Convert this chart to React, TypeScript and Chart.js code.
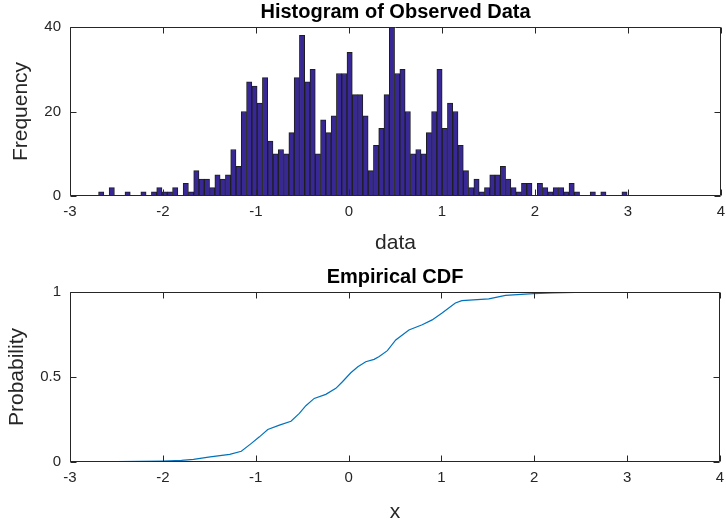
import React, { useEffect, useRef } from "react";
import { Chart, registerables } from "chart.js";

Chart.register(...registerables);

// Histogram: 100 bins from -2.693 with width 0.05684
const binStart = -2.693;
const binWidth = 0.05684;
const binCounts = [
  1, 0, 2, 0, 0, 1, 0, 0, 1, 0,
  1, 2, 1, 1, 2, 0, 3, 1, 6, 4,
  4, 2, 5, 4, 5, 11, 7, 20, 27, 26,
  22, 28, 13, 10, 11, 10, 15, 28, 38, 27,
  30, 10, 18, 15, 19, 29, 29, 34, 24, 24,
  19, 6, 12, 16, 24, 40, 29, 30, 20, 10,
  11, 10, 15, 20, 30, 16, 22, 20, 12, 6,
  2, 4, 1, 2, 5, 5, 7, 4, 2, 1,
  3, 3, 0, 3, 2, 1, 2, 2, 1, 3,
  1, 0, 0, 1, 0, 1, 0, 0, 0, 1,
];

// Empirical CDF
const cdfX = [-3.0, -2.5, -2.0, -1.8, -1.67, -1.49, -1.28, -1.155, -1.05, -0.96, -0.87, -0.745, -0.62, -0.53, -0.46, -0.37, -0.245, -0.137, -0.066, 0.024, 0.1, 0.185, 0.275, 0.33, 0.418, 0.508, 0.65, 0.793, 0.9, 1.007, 1.15, 1.22, 1.51, 1.69, 1.99, 2.2, 2.44, 3.0, 3.28];
const cdfP = [0, 0.002, 0.006, 0.01, 0.016, 0.03, 0.045, 0.063, 0.108, 0.148, 0.191, 0.217, 0.24, 0.286, 0.331, 0.374, 0.398, 0.433, 0.472, 0.525, 0.56, 0.59, 0.604, 0.62, 0.655, 0.718, 0.777, 0.807, 0.836, 0.876, 0.935, 0.949, 0.96, 0.98, 0.99, 0.995, 0.998, 1.0, 1.0];

const xTicks = [-3, -2, -1, 0, 1, 2, 3, 4];
const histYTicks = [0, 20, 40];
const cdfYTicks = [0, 0.5, 1];

const FONT = "'Liberation Sans', Arial, Helvetica, sans-serif";
const AX = "#262626";

const boxPlugin = {
  id: "matlabBox",
  afterDraw(chart: any) {
    const { ctx, chartArea: a, scales } = chart;
    const xs = scales.x;
    const ys = scales.y;
    const L = Math.round(a.left) + 0.5;
    const R = Math.round(a.right) - 0.5;
    const T = Math.round(a.top) + 0.5;
    const B = Math.round(a.bottom) - 0.5;
    ctx.save();
    ctx.strokeStyle = AX;
    ctx.lineWidth = 1;
    ctx.beginPath();
    ctx.rect(L, T, R - L, B - T);
    const tl = 6;
    xs.ticks.forEach((t: any) => {
      const p = Math.round(xs.getPixelForValue(t.value)) + 0.5;
      ctx.moveTo(p, B);
      ctx.lineTo(p, B - tl);
      ctx.moveTo(p, T);
      ctx.lineTo(p, T + tl);
    });
    ys.ticks.forEach((t: any) => {
      const p = Math.round(ys.getPixelForValue(t.value)) + 0.5;
      ctx.moveTo(L, p);
      ctx.lineTo(L + tl, p);
      ctx.moveTo(R, p);
      ctx.lineTo(R - tl, p);
    });
    ctx.stroke();
    ctx.restore();
  },
};

function xScale(height: number, title: string, titlePad: number) {
  return {
    type: "linear",
    min: -3,
    max: 4,
    offset: false,
    afterBuildTicks: (s: any) => {
      s.ticks = xTicks.map((v) => ({ value: v }));
    },
    afterFit: (s: any) => {
      s.height = height;
      s.paddingLeft = 0;
      s.paddingRight = 0;
    },
    grid: { display: false, offset: false, drawTicks: false, tickLength: 0 },
    border: { display: false },
    ticks: {
      color: AX,
      font: { family: FONT, size: 15 },
      padding: 7,
      maxRotation: 0,
      autoSkip: false,
      callback: (v: any) => String(v),
    },
    title: { display: true, text: title, color: AX, font: { family: FONT, size: 21 }, padding: { top: 0, bottom: titlePad } },
  };
}

function yScale(min: number, max: number, tickVals: number[], title: string, titlePad: number) {
  return {
    type: "linear",
    min,
    max,
    afterBuildTicks: (s: any) => {
      s.ticks = tickVals.map((v) => ({ value: v }));
    },
    afterFit: (s: any) => {
      s.width = 70;
      s.paddingTop = 0;
      s.paddingBottom = 0;
    },
    grid: { display: false, drawTicks: false, tickLength: 0 },
    border: { display: false },
    ticks: { color: AX, font: { family: FONT, size: 15 }, padding: 9, callback: (v: any) => String(v) },
    title: { display: true, text: title, color: AX, font: { family: FONT, size: 21 }, padding: { top: titlePad, bottom: 0 } },
  };
}

export default function App() {
  const topRef = useRef<HTMLCanvasElement>(null);
  const botRef = useRef<HTMLCanvasElement>(null);

  useEffect(() => {
    const histData = binCounts.map((c, i) => ({ x: binStart + (i + 0.5) * binWidth, y: c }));
    const cdfData = cdfX.map((x, i) => ({ x, y: cdfP[i] }));

    const top = new Chart(topRef.current as HTMLCanvasElement, {
      type: "bar",
      data: {
        datasets: [
          {
            data: histData as any,
            backgroundColor: "rgb(55,40,150)",
            borderColor: "#1e1e1e",
            borderWidth: 1,
            borderSkipped: false,
            barPercentage: 1,
            categoryPercentage: 1,
          },
        ],
      },
      options: {
        responsive: false,
        animation: false,
        layout: { padding: { left: 0, right: 5, top: 0, bottom: 0 } },
        plugins: {
          legend: { display: false },
          tooltip: { enabled: false },
          title: {
            display: true,
            fullSize: false,
            text: "Histogram of Observed Data",
            color: "#000",
            font: { family: FONT, size: 20, weight: "bold" },
            padding: { top: 0, bottom: 3 },
          },
        },
        scales: {
          x: xScale(67, "data", 7),
          y: yScale(0, 40, histYTicks, "Frequency", 9),
        } as any,
      },
      plugins: [boxPlugin],
    });

    const bot = new Chart(botRef.current as HTMLCanvasElement, {
      type: "line",
      data: {
        datasets: [
          {
            data: cdfData as any,
            borderColor: "#0072BD",
            borderWidth: 1.2,
            pointRadius: 0,
            fill: false,
            tension: 0,
          },
        ],
      },
      options: {
        responsive: false,
        animation: false,
        layout: { padding: { left: 0, right: 6, top: 0, bottom: 0 } },
        plugins: {
          legend: { display: false },
          tooltip: { enabled: false },
          title: {
            display: true,
            fullSize: false,
            text: "Empirical CDF",
            color: "#000",
            font: { family: FONT, size: 20, weight: "bold" },
            padding: { top: 2, bottom: 3 },
          },
        },
        scales: {
          x: xScale(64, "x", 1),
          y: yScale(0, 1, cdfYTicks, "Probability", 5),
        } as any,
      },
      plugins: [boxPlugin],
    });

    return () => {
      top.destroy();
      bot.destroy();
    };
  }, []);

  return (
    <div style={{ position: "absolute", left: 0, top: 0, width: 726, height: 526, background: "#fff" }}>
      <canvas ref={topRef} width={726} height={263} style={{ position: "absolute", left: 0, top: 0, width: 726, height: 263 }} />
      <canvas ref={botRef} width={726} height={263} style={{ position: "absolute", left: 0, top: 263, width: 726, height: 263 }} />
    </div>
  );
}
